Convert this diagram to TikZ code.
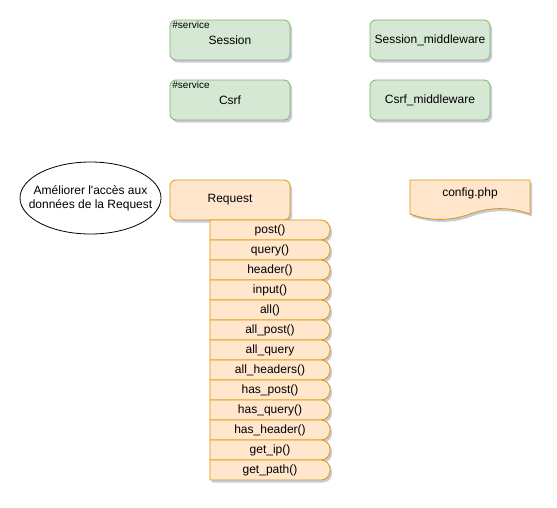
\documentclass[tikz,border=0pt]{standalone}
\usepackage{fontspec}
\setmainfont{Liberation Sans}
\usetikzlibrary{shapes.geometric,shadows,positioning}
\definecolor{svcfill}{HTML}{D5E8D4}
\definecolor{svcline}{HTML}{82B366}
\definecolor{reqfill}{HTML}{FFE6CC}
\definecolor{reqline}{HTML}{D79B00}
\tikzset{
  softshadow/.style={drop shadow={shadow xshift=2pt,shadow yshift=-2.5pt,
                     opacity=0.3,fill=black!60!blue!70}},
  svcbox/.style={draw=svcline,fill=svcfill,rounded corners=6pt,
                 minimum width=120pt,minimum height=40pt,softshadow},
  reqbox/.style={draw=reqline,fill=reqfill,rounded corners=6pt,
                 minimum width=120pt,minimum height=40pt,softshadow},
  methshape/.style={draw=reqline,fill=reqfill,softshadow},
  tagtext/.style={font=\fontsize{10}{12}\selectfont,anchor=base west},
  notebubble/.style={draw=black,fill=white,ellipse,minimum width=141pt,
                     minimum height=72pt,inner xsep=-14pt,align=center}
}
\begin{document}
\begin{tikzpicture}[x=1pt,y=1pt,line width=0.8pt,
  every node/.style={font=\fontsize{12}{14}\selectfont,inner sep=0pt}]
\useasboundingbox (0,0) rectangle (557,-507);
% services et middlewares
\node[svcbox] (session) at (230,-40) {Session};
\node[tagtext] (sessiontag) at (172,-28.5) {\#service};
\node[svcbox] (csrf) at (230,-100) {Csrf};
\node[tagtext] (csrftag) at (172,-88.5) {\#service};
\node[svcbox] (sessionmw) at (430,-40) {Session\_middleware};
\node[svcbox] (csrfmw) at (430,-100) {Csrf\_middleware};
% note
\node[notebubble] (note) at (90.5,-198) {Améliorer l\textquotesingle accès aux\\données de la Request};
% config
\draw[methshape] (410,-180) -- (530,-180) -- (530,-214)
  .. controls (510,-206.8) and (490,-206.8) .. (470,-214)
  .. controls (450,-221.2) and (430,-221.2) .. (410,-214) -- cycle;
\node (config) at (470,-193) {config.php};
% request et ses methodes
\node[reqbox] (request) at (230,-200) {Request};
\foreach \m [count=\i] in {post(),query(),header(),input(),all(),all\_post(),
    all\_query,all\_headers(),has\_post(),has\_query(),has\_header(),get\_ip(),get\_path()}{
  \draw[methshape] (210,-200-20*\i) -- (321,-200-20*\i)
    arc[start angle=90,end angle=0,radius=9] -- (330,-211-20*\i)
    arc[start angle=0,end angle=-90,radius=9] -- (210,-220-20*\i) -- cycle;
  \node (meth\i) at (270,-210-20*\i) {\m};
}
\end{tikzpicture}
\end{document}
